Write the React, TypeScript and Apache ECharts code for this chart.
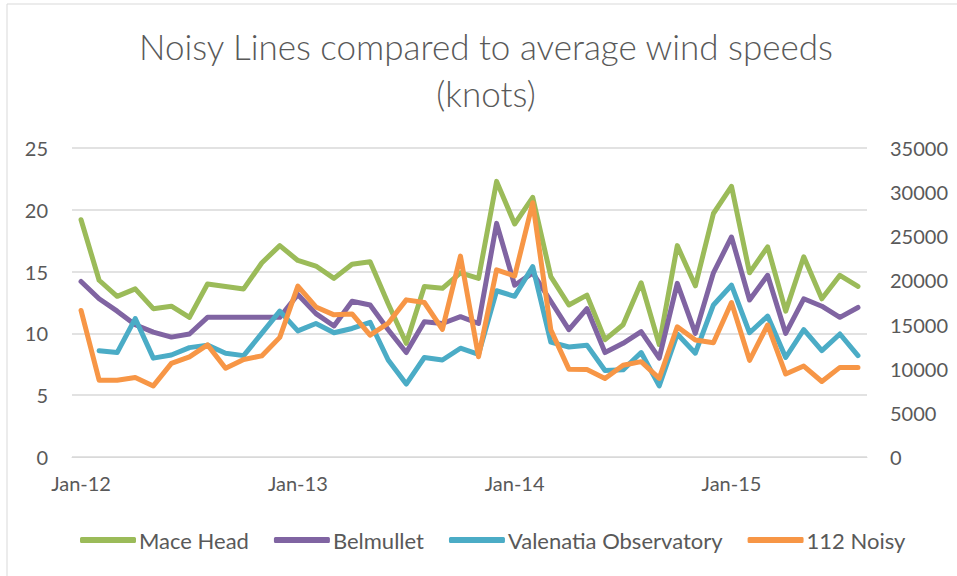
import React, { useEffect, useRef } from "react";
import * as echarts from "echarts";

const months = ["Jan", "Feb", "Mar", "Apr", "May", "Jun", "Jul", "Aug", "Sep", "Oct", "Nov", "Dec"];
const categories: string[] = [];
for (let y = 12; y <= 15; y++) {
  for (let m = 0; m < 12; m++) {
    if (y === 15 && m > 7) break;
    categories.push(`${months[m]}-${y}`);
  }
}

const maceHead = [19.2, 14.3, 13.0, 13.6, 12.0, 12.2, 11.3, 14.0, 13.8, 13.6, 15.7, 17.1, 15.9, 15.45, 14.45, 15.6, 15.8, 12.4, 9.2, 13.8, 13.65, 14.9, 14.45, 22.3, 18.85, 21.0, 14.6, 12.3, 13.1, 9.5, 10.7, 14.1, 9.1, 17.1, 13.85, 19.7, 21.9, 14.9, 17.0, 11.8, 16.2, 12.8, 14.7, 13.8];
const belmullet = [14.2, 12.8, 11.8, 10.7, 10.1, 9.7, 9.95, 11.3, 11.3, 11.3, 11.3, 11.3, 13.15, 11.6, 10.6, 12.6, 12.3, 10.3, 8.45, 10.95, 10.8, 11.35, 10.8, 18.9, 13.9, 14.9, 12.6, 10.3, 12.0, 8.45, 9.2, 10.15, 8.0, 14.05, 10.0, 14.9, 17.8, 12.7, 14.7, 10.0, 12.8, 12.2, 11.3, 12.1];
const valentia = [null, 8.6, 8.45, 11.2, 8.0, 8.25, 8.85, 9.05, 8.4, 8.2, 10.0, 11.8, 10.2, 10.8, 10.05, 10.4, 10.9, 7.85, 5.9, 8.05, 7.85, 8.8, 8.3, 13.45, 13.0, 15.4, 9.3, 8.9, 9.05, 7.0, 7.05, 8.45, 5.75, 9.95, 8.4, 12.3, 13.9, 10.05, 11.4, 8.05, 10.3, 8.6, 9.95, 8.2];
const noisy = [16600, 8700, 8700, 9000, 8050, 10600, 11350, 12700, 10050, 11050, 11450, 13550, 19350, 17000, 16100, 16200, 13800, 15150, 17800, 17500, 14450, 22750, 11350, 21200, 20500, 28800, 14400, 9950, 9900, 8900, 10400, 10800, 8900, 14750, 13250, 12950, 17500, 10950, 14950, 9400, 10300, 8550, 10150, 10150];

const seriesNames = ["Mace Head", "Belmullet", "Valenatia Observatory", "112 Noisy"];
const colors = ["#9BBB59", "#8064A2", "#4BACC6", "#F79646"];
const titleText = "Noisy Lines compared to average wind speeds\n(knots)";

const FONT = "Lato";
const TXT = "#595959";

export default function App() {
  const ref = useRef<HTMLDivElement>(null);
  useEffect(() => {
    if (!ref.current) return;
    const chart = echarts.init(ref.current, undefined, { renderer: "svg" });
    const datasets = [maceHead, belmullet, valentia, noisy];
    const line = (i: number) => ({
      name: seriesNames[i],
      type: "line" as const,
      yAxisIndex: i === 3 ? 1 : 0,
      data: datasets[i],
      showSymbol: false,
      symbol: "none",
      connectNulls: false,
      lineStyle: { color: colors[i], width: 5, cap: "round", join: "round" },
      itemStyle: { color: colors[i] },
      z: 2 + i,
    });
    chart.setOption({
      animation: false,
      backgroundColor: "#ffffff",
      textStyle: { fontFamily: FONT },
      graphic: [
        {
          type: "rect",
          shape: { x: 7, y: 4, width: 1000, height: 700 },
          style: { fill: "none", stroke: "#D9D9D9", lineWidth: 1 },
          silent: true,
          z: -1,
        },
        {
          type: "text",
          style: {
            text: titleText,
            x: 486,
            y: 22,
            textAlign: "center",
            textVerticalAlign: "top",
            fontFamily: FONT,
            fontWeight: 300,
            fontSize: 35,
            lineHeight: 47,
            fill: TXT,
          },
          silent: true,
        },
      ],
      legend: {
        left: 75,
        top: 524,
        itemWidth: 56,
        itemHeight: 6,
        itemGap: 25,
        icon: "roundRect",
        data: seriesNames,
        textStyle: { fontFamily: FONT, fontSize: 22, color: TXT, padding: [0, 0, 0, -2] },
      },
      grid: { left: 72, right: 90, top: 148, bottom: 119, containLabel: false },
      xAxis: {
        type: "category",
        data: categories,
        boundaryGap: true,
        axisLine: { show: true, lineStyle: { color: "#D9D9D9", width: 1 } },
        axisTick: { show: false },
        axisLabel: {
          interval: (idx: number) => idx % 12 === 0,
          color: TXT,
          fontSize: 20,
          fontFamily: FONT,
          margin: 16,
        },
        splitLine: { show: false },
      },
      yAxis: [
        {
          type: "value",
          min: 0,
          max: 25,
          interval: 5,
          axisLine: { show: false },
          axisTick: { show: false },
          axisLabel: { color: TXT, fontSize: 20, fontFamily: FONT, margin: 24 },
          splitLine: { show: true, lineStyle: { color: "#D9D9D9", width: 1.5 } },
        },
        {
          type: "value",
          min: 0,
          max: 35000,
          interval: 5000,
          position: "right",
          axisLine: { show: false },
          axisTick: { show: false },
          axisLabel: {
            color: TXT,
            fontSize: 20,
            fontFamily: FONT,
            margin: 23,
            formatter: (v: number) => String(v),
          },
          splitLine: { show: false },
        },
      ],
      series: [0, 1, 2, 3].map(line),
    });
    return () => chart.dispose();
  }, []);
  return (
    <div
      ref={ref}
      style={{ position: "fixed", left: 0, top: 0, width: 957, height: 576, background: "#fff" }}
    />
  );
}
